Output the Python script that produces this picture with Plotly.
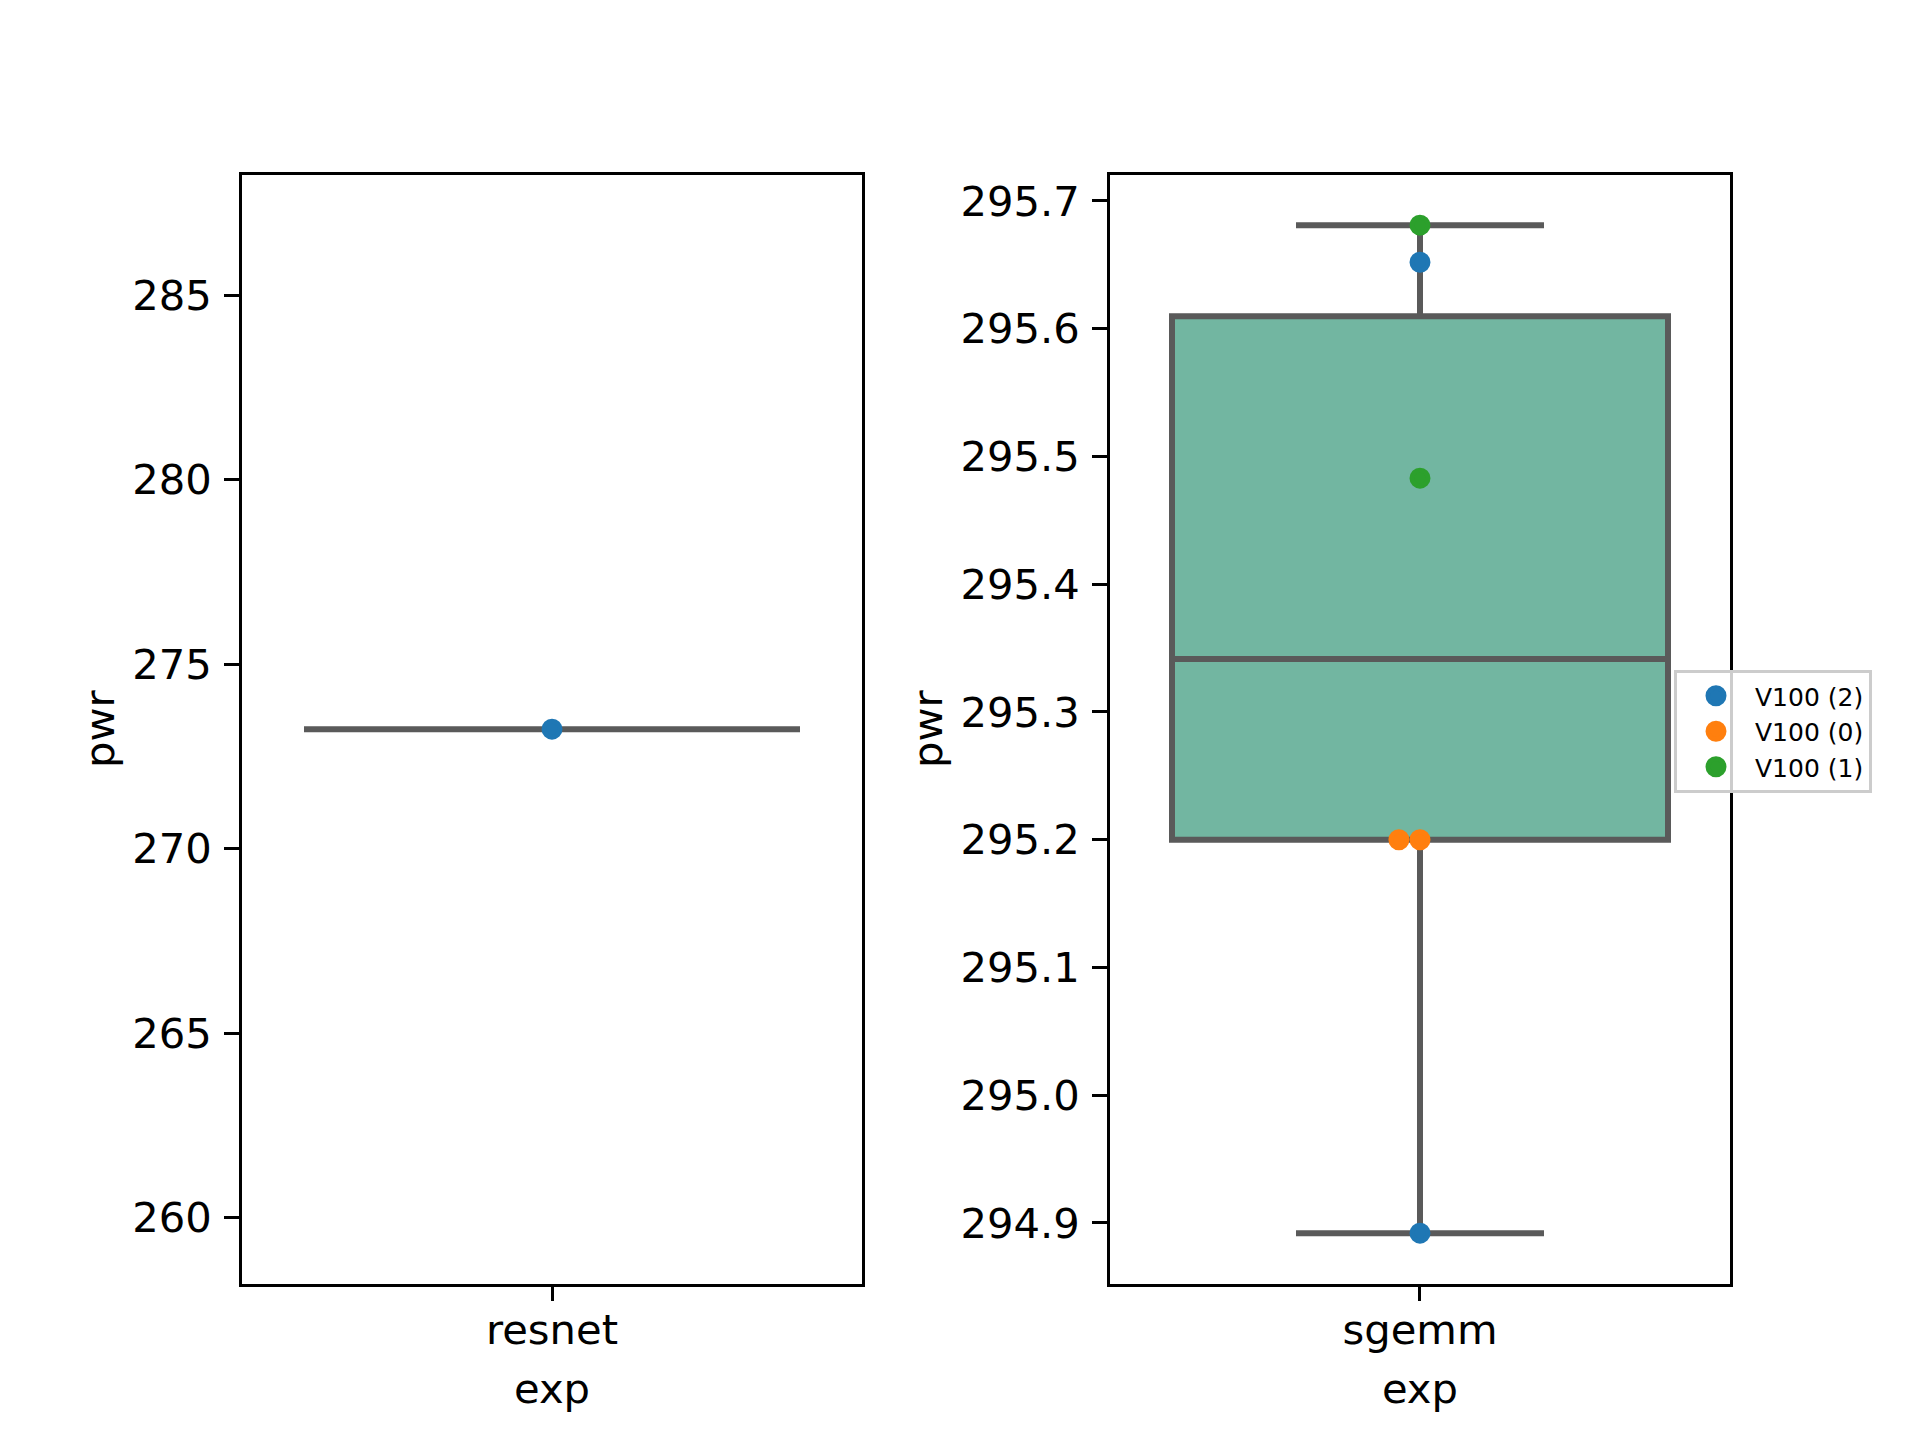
import numpy as np
import plotly.graph_objects as go

# data
experiments = ["resnet", "sgemm"]
resnet_pwr = [273.24]
resnet_gpu = ["V100 (2)"]
sgemm_pwr = [295.652, 294.892, 295.2, 295.2, 295.681, 295.483]
sgemm_gpu = ["V100 (2)", "V100 (2)", "V100 (0)", "V100 (0)", "V100 (1)", "V100 (1)"]
gpu_order = ["V100 (2)", "V100 (0)", "V100 (1)"]

GPU_COLORS = {"V100 (2)": "#1f77b4", "V100 (0)": "#ff7f0e", "V100 (1)": "#2ca02c"}
BOX_FILL = "#72b6a1"
BOX_LINE = "#5a5a5a"
FONT = "DejaVu Sans"
TICK_SIZE = 41.7
DODGE = 0.034  # swarm offset for overlapping dots (one dot diameter)

# page body has a small margin, shift the layout back by that much
W, H = 1920, 1440
DX, DY = 6 / W, 6 / H


def box_stats(vals):
    v = np.asarray(vals, dtype=float)
    q1, med, q3 = np.percentile(v, [25, 50, 75])
    iqr = q3 - q1
    lo = v[v >= q1 - 1.5 * iqr].min()
    hi = v[v <= q3 + 1.5 * iqr].max()
    return q1, med, q3, lo, hi


def mpl_range(vals):
    lo, hi = min(vals), max(vals)
    if hi - lo < 1e-12:
        lo, hi = lo - 0.05 * abs(lo), hi + 0.05 * abs(hi)
    pad = 0.05 * (hi - lo)
    return [lo - pad, hi + pad]


def swarm_x(vals):
    xs, seen = [], {}
    for v in vals:
        k = seen.get(v, 0)
        xs.append(-k * DODGE)
        seen[v] = k + 1
    return xs


fig = go.Figure()

panels = [
    ("x", "y", resnet_pwr, resnet_gpu),
    ("x2", "y2", sgemm_pwr, sgemm_gpu),
]

box_traces, dot_traces = [], []
for xa, ya, pwr, gpus in panels:
    q1, med, q3, lo, hi = box_stats(pwr)
    box_traces.append(go.Box(
        x=[0], q1=[q1], median=[med], q3=[q3], lowerfence=[lo], upperfence=[hi],
        width=0.8, whiskerwidth=0.5, fillcolor=BOX_FILL,
        line=dict(color=BOX_LINE, width=6), boxpoints=False,
        showlegend=False, xaxis=xa, yaxis=ya,
    ))

    xs = swarm_x(pwr)
    for g in gpu_order:
        idx = [i for i, gg in enumerate(gpus) if gg == g]
        if not idx:
            continue
        # size 16 + 5px outline of the same colour -> ~21px dot (also keeps legend dots big)
        dot_traces.append(go.Scatter(
            x=[xs[i] for i in idx], y=[pwr[i] for i in idx],
            mode="markers", name=g, legendgroup=g,
            marker=dict(color=GPU_COLORS[g], size=16, line=dict(width=5, color=GPU_COLORS[g])),
            showlegend=(xa == "x2"),
            xaxis=xa, yaxis=ya,
        ))

for t in box_traces + dot_traces:
    fig.add_trace(t)

axis_common = dict(
    showline=True, linecolor="black", linewidth=3.3, mirror=True,
    ticks="outside", ticklen=14.6, tickwidth=3.3, tickcolor="black",
    showgrid=False, zeroline=False,
    tickfont=dict(family=FONT, size=TICK_SIZE, color="black"),
)

x_dom1 = [0.125 - DX, 0.44792 - DX]
x_dom2 = [0.57708 - DX, 0.9 - DX]
y_dom = [0.11 + DY, 0.88 + DY]

fig.update_layout(
    width=W, height=H, autosize=False,
    margin=dict(l=0, r=0, t=0, b=0),
    paper_bgcolor="white", plot_bgcolor="white",
    font=dict(family=FONT, color="black"),
    xaxis=dict(domain=x_dom1, range=[-0.5, 0.5], tickvals=[0], ticktext=[experiments[0]],
               ticklabelstandoff=-7,
               title=dict(text="exp", font=dict(size=TICK_SIZE), standoff=21), **axis_common),
    xaxis2=dict(domain=x_dom2, range=[-0.5, 0.5], tickvals=[0], ticktext=[experiments[1]],
                anchor="y2", ticklabelstandoff=-7,
                title=dict(text="exp", font=dict(size=TICK_SIZE), standoff=21), **axis_common),
    yaxis=dict(domain=y_dom, range=mpl_range(resnet_pwr), tick0=0, dtick=5,
               ticklabelstandoff=4,
               title=dict(text="pwr", font=dict(size=TICK_SIZE), standoff=5), **axis_common),
    yaxis2=dict(domain=y_dom, range=mpl_range(sgemm_pwr), anchor="x2", tick0=0, dtick=0.1,
                tickformat=".1f", ticklabelstandoff=4,
                title=dict(text="pwr", font=dict(size=TICK_SIZE), standoff=5), **axis_common),
    legend=dict(
        x=(1672 - 6) / W, y=1 - (668 - 6) / H, xanchor="left", yanchor="top",
        bgcolor="rgba(255,255,255,0.8)", bordercolor="#cccccc", borderwidth=3,
        font=dict(family=FONT, size=25, color="black"),
        itemsizing="trace", itemwidth=68, tracegroupgap=0,
    ),
)

fig.write_html("out.html")
